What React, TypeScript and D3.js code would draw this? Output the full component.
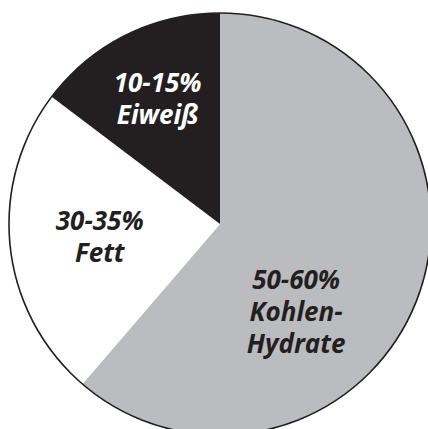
import React from "react";
import * as d3 from "d3";

const categories = ["Kohlenhydrate", "Fett", "Eiweiß"];
const values = [61.3, 24.0, 14.7];
const labels = [
  ["50-60%", "Kohlen-", "Hydrate"],
  ["30-35%", "Fett"],
  ["10-15%", "Eiweiß"],
];
const colors = ["#bbbcbf", "#ffffff", "#231f20"];
const textColors = ["#231f20", "#231f20", "#ffffff"];

// layout
const W = 428, H = 429;
const cx = 220, cy = 224, R = 211;
const labelRadius = [116, 121, 140];
const labelAngleDeg = [139, null, null];
const fontSize = 26;
const lineH = 32;
const capHalf = 9.5;

export default function App() {
  const pie = d3.pie<number>().sort(null).value((d) => d);
  const arcs = pie(values);
  const arc = d3.arc<d3.PieArcDatum<number>>().innerRadius(0).outerRadius(R);
  return (
    <svg
      width={W}
      height={H}
      style={{ position: "absolute", left: 0, top: 0, background: "#fff" }}
    >
      <g transform={`translate(${cx},${cy})`}>
        {arcs.map((a, i) => (
          <path key={categories[i]} d={arc(a) || ""} fill={colors[i]} />
        ))}
        <circle r={R} fill="none" stroke="#231f20" strokeWidth={1.6} />
        {arcs.map((a, i) => {
          const ang =
            labelAngleDeg[i] != null
              ? (labelAngleDeg[i] as number) * (Math.PI / 180)
              : (a.startAngle + a.endAngle) / 2;
          const x = Math.sin(ang) * labelRadius[i];
          const y = -Math.cos(ang) * labelRadius[i];
          const lines = labels[i];
          const y0 = y - ((lines.length - 1) * lineH) / 2 + capHalf;
          return (
            <text
              key={"t" + i}
              textAnchor="middle"
              fill={textColors[i]}
              fontFamily="'Open Sans', sans-serif"
              fontWeight={700}
              fontStyle="italic"
              fontSize={fontSize}
            >
              {lines.map((l, j) => (
                <tspan key={j} x={x} y={y0 + j * lineH}>
                  {l}
                </tspan>
              ))}
            </text>
          );
        })}
      </g>
    </svg>
  );
}
